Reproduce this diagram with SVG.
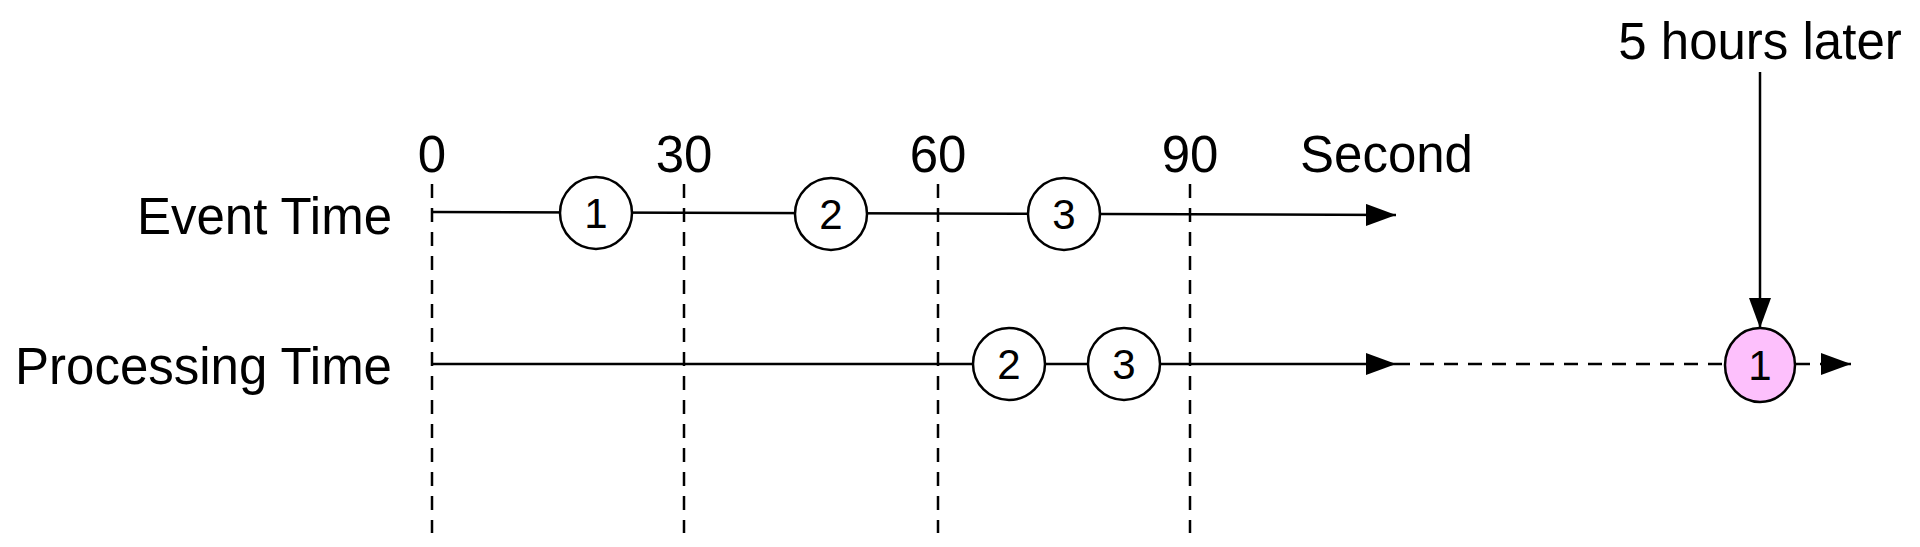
<svg xmlns="http://www.w3.org/2000/svg" width="1920" height="547" viewBox="0 0 1920 547">
<style>
text{font-family:"Liberation Sans",Arial,sans-serif;fill:#000}
.lbl{font-size:51px}
.num{font-size:42px;text-anchor:middle}
.ln{stroke:#000;stroke-width:2.5;fill:none}
.dash{stroke:#000;stroke-width:2.5;stroke-dasharray:14 10;fill:none}
.c{fill:#fff;stroke:#000;stroke-width:2.5}
</style>
<defs>
<marker id="ah" markerWidth="30" markerHeight="22" refX="30" refY="11" orient="auto" markerUnits="userSpaceOnUse"><path d="M0,0L30,11L0,22z" fill="#000"/></marker>
</defs>
<rect width="1920" height="547" fill="#fff"/>
<g id="labels">
<text class="lbl" x="392" y="234" text-anchor="end">Event Time</text>
<text class="lbl" x="392" y="384" text-anchor="end">Processing Time</text>
<text class="lbl" x="432" y="172" text-anchor="middle">0</text>
<text class="lbl" x="684" y="172" text-anchor="middle">30</text>
<text class="lbl" x="938" y="172" text-anchor="middle">60</text>
<text class="lbl" x="1190" y="172" text-anchor="middle">90</text>
<text class="lbl" x="1300" y="172">Second</text>
<text class="lbl" x="1760" y="59" text-anchor="middle">5 hours later</text>
</g>
<g id="connectors">
<line class="dash" x1="432" y1="184" x2="432" y2="533"/>
<line class="dash" x1="684" y1="184" x2="684" y2="533"/>
<line class="dash" x1="938" y1="184" x2="938" y2="533"/>
<line class="dash" x1="1190" y1="184" x2="1190" y2="533"/>
<line class="ln" x1="432" y1="212" x2="1396" y2="215" marker-end="url(#ah)"/>
<line class="ln" x1="432" y1="364" x2="1396" y2="364" marker-end="url(#ah)"/>
<line class="dash" x1="1396" y1="364" x2="1724" y2="364"/>
<line class="dash" x1="1796" y1="364" x2="1851" y2="364" stroke-dasharray="12 8" marker-end="url(#ah)"/>
<line class="ln" x1="1760" y1="72" x2="1760" y2="328" marker-end="url(#ah)"/>
</g>
<g id="e1"><circle class="c" cx="596" cy="213" r="36"/><text class="num" x="596" y="228">1</text></g>
<g id="e2"><circle class="c" cx="831" cy="214" r="36"/><text class="num" x="831" y="229">2</text></g>
<g id="e3"><circle class="c" cx="1064" cy="214" r="36"/><text class="num" x="1064" y="229">3</text></g>
<g id="p2"><circle class="c" cx="1009" cy="364" r="36"/><text class="num" x="1009" y="379">2</text></g>
<g id="p3"><circle class="c" cx="1124" cy="364" r="36"/><text class="num" x="1124" y="379">3</text></g>
<g id="p1"><ellipse cx="1760" cy="365" rx="35" ry="37" fill="#fdc0fc" stroke="#000" stroke-width="2.5"/><text class="num" x="1760" y="380">1</text></g>
</svg>
